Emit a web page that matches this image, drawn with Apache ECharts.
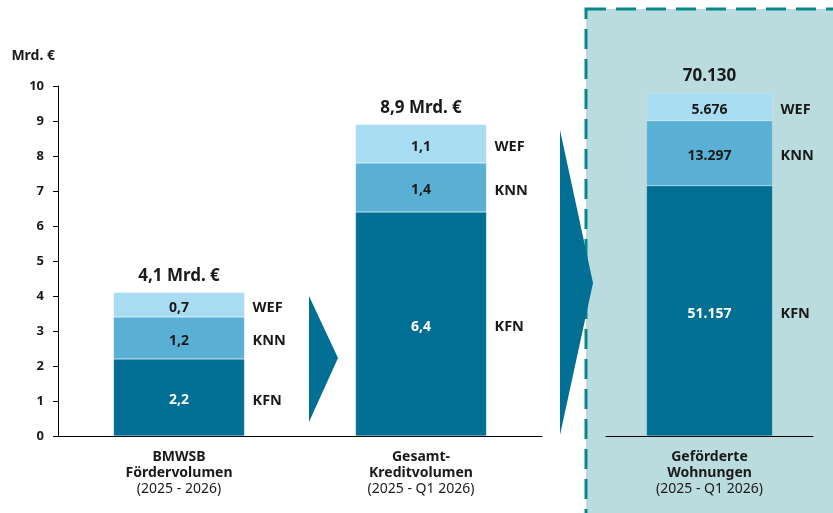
<!DOCTYPE html>
<html>
<head>
<meta charset="utf-8">
<script src="https://cdn.jsdelivr.net/npm/echarts@6/dist/echarts.min.js"></script>
<style>
  html, body { margin: 0; padding: 0; background: #fff; }
  #chart { width: 833px; height: 513px; }
</style>
</head>
<body>
<div id="chart"></div>
<script>
  // Volumen in Mrd. €
  const volCategories = ['BMWSB|Fördervolumen|(2025 - 2026)', 'Gesamt-|Kreditvolumen|(2025 - Q1 2026)'];
  const volKFN = [2.2, 6.4];
  const volKNN = [1.2, 1.4];
  const volWEF = [0.7, 1.1];
  const volTotal = [4.1, 8.9];
  // geförderte Wohnungen
  const wohnCategories = ['Geförderte|Wohnungen|(2025 - Q1 2026)'];
  const wohnKFN = [51157];
  const wohnKNN = [13297];
  const wohnWEF = [5676];
  const wohnTotal = [70130];
  const yTicks = [0, 10, 1];

  const font = 'Noto Sans';
  const ink = '#1a1a1a';
  const colors = { KFN: '#016f94', KNN: '#59b0d4', WEF: '#a8dcf2' };

  const deDec = v => v.toFixed(1).replace('.', ',');
  const deInt = v => String(v).replace(/\B(?=(\d{3})+(?!\d))/g, '.');
  const catLabel = v => {
    const p = v.split('|');
    return '{b|' + p[0] + '}\n{b|' + p[1] + '}\n{n|' + p[2] + '}';
  };

  function stackSeries(axis, kfn, knn, wef, total, fmt, barWidth) {
    const base = { type: 'bar', xAxisIndex: axis, yAxisIndex: axis, barWidth: barWidth, barGap: '-100%' };
    const out = [];
    [['KFN', kfn, '#fff'], ['KNN', knn, ink], ['WEF', wef, ink]].forEach(([name, data, tc]) => {
      out.push(Object.assign({}, base, {
        name: name, stack: 'v' + axis, data: data,
        itemStyle: { color: colors[name], borderColor: 'rgba(255,255,255,0.35)', borderWidth: 0.5 },
        label: { show: true, position: 'inside', color: tc, fontFamily: font, fontWeight: 'bold', fontSize: 14, offset: [0, 3],
          formatter: p => fmt(p.value) }
      }));
      out.push(Object.assign({}, base, {
        name: name + '-tag', stack: 'n' + axis, data: data,
        itemStyle: { color: 'rgba(0,0,0,0)' },
        label: { show: true, position: 'right', distance: 8, color: ink, fontFamily: font, fontWeight: 'bold', fontSize: 14.5, offset: [0, 3],
          formatter: () => name }
      }));
    });
    out.push(Object.assign({}, base, {
      name: 'total', stack: 't' + axis, data: total,
      itemStyle: { color: 'rgba(0,0,0,0)' }, z: 1,
      label: { show: true, position: 'top', distance: 8, color: ink, fontFamily: font, fontWeight: 'bold', fontSize: 17,
        formatter: p => axis === 0 ? fmt(p.value) + ' Mrd. €' : fmt(p.value) }
    }));
    return out;
  }

  const xAxisCommon = {
    type: 'category',
    axisLine: { lineStyle: { color: '#000', width: 1 } },
    axisTick: { show: false },
    axisLabel: {
      interval: 0, margin: 13, formatter: catLabel,
      rich: {
        b: { fontFamily: font, fontWeight: 'bold', fontSize: 14, color: ink, lineHeight: 16 },
        n: { fontFamily: font, fontSize: 14, color: ink, lineHeight: 16 }
      }
    }
  };

  const chart = echarts.init(document.getElementById('chart'));
  chart.setOption({
    animation: false,
    graphic: [
      { type: 'rect', z: -10, shape: { x: 586, y: 9, width: 270, height: 530 },
        style: { fill: '#badcdf', stroke: '#0a878b', lineWidth: 3, lineDash: [20, 10] } },
      { type: 'polygon', z: 10, shape: { points: [[309, 296], [338, 358], [309, 422]] }, style: { fill: colors.KFN } },
      { type: 'polygon', z: 10, shape: { points: [[560, 130], [593, 283], [560, 435]] }, style: { fill: colors.KFN } }
    ],
    grid: [
      { left: 58, width: 484, top: 86, bottom: 77 },
      { left: 606, width: 207, top: 86, bottom: 77 }
    ],
    xAxis: [
      Object.assign({}, xAxisCommon, { gridIndex: 0, data: volCategories }),
      Object.assign({}, xAxisCommon, { gridIndex: 1, data: wohnCategories })
    ],
    yAxis: [
      {
        type: 'value', gridIndex: 0, min: yTicks[0], max: yTicks[1], interval: yTicks[2],
        name: 'Mrd. €', nameLocation: 'end', nameGap: 30,
        nameTextStyle: { align: 'right', verticalAlign: 'middle', fontFamily: font, fontWeight: 'bold', fontSize: 14, color: ink, padding: [0, 3, 0, 0] },
        axisLine: { show: true, lineStyle: { color: '#000', width: 1 } },
        axisTick: { show: true, length: 5, lineStyle: { color: '#000' } },
        axisLabel: { margin: 14, fontFamily: font, fontWeight: 'bold', fontSize: 13, color: ink },
        splitLine: { show: false }
      },
      { type: 'value', gridIndex: 1, min: 0, max: 71560, show: false, splitLine: { show: false } }
    ],
    series: [].concat(
      stackSeries(0, volKFN, volKNN, volWEF, volTotal, deDec, 131),
      stackSeries(1, wohnKFN, wohnKNN, wohnWEF, wohnTotal, deInt, 126)
    )
  });
</script>
</body>
</html>
